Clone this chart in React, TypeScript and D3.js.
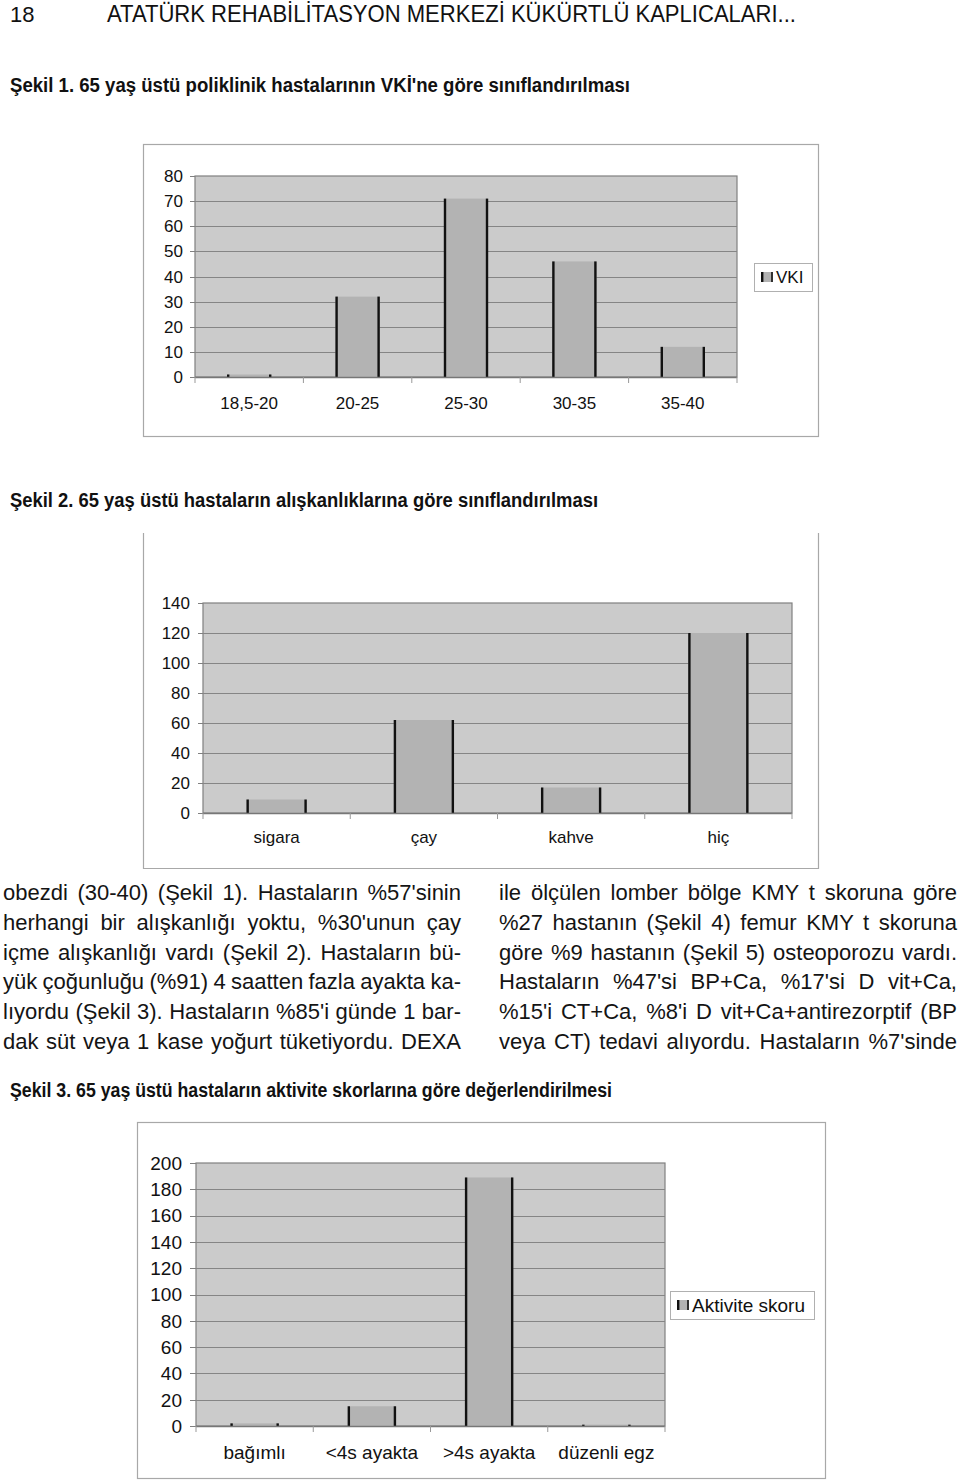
import React, { useEffect, useRef } from 'react';
import * as d3 from 'd3';

const W = 960;
const H = 1482;

const headerNumber = '18';
const headerTitle = 'ATATÜRK REHABİLİTASYON MERKEZİ KÜKÜRTLÜ KAPLICALARI...';

const figure1Title = 'Şekil 1. 65 yaş üstü poliklinik hastalarının VKİ\'ne göre sınıflandırılması';
const figure2Title = 'Şekil 2. 65 yaş üstü hastaların alışkanlıklarına göre  sınıflandırılması';
const figure3Title = 'Şekil 3. 65 yaş üstü hastaların aktivite skorlarına göre değerlendirilmesi';

const vkiCategories = ['18,5-20', '20-25', '25-30', '30-35', '35-40'];
const vkiValues = [1, 32, 71, 46, 12];
const vkiTicks = [0, 10, 20, 30, 40, 50, 60, 70, 80];
const vkiLegend = 'VKI';

const habitCategories = ['sigara', 'çay', 'kahve', 'hiç'];
const habitValues = [9, 62, 17, 120];
const habitTicks = [0, 20, 40, 60, 80, 100, 120, 140];

const activityCategories = ['bağımlı', '<4s ayakta', '>4s ayakta', 'düzenli egz'];
const activityValues = [2, 15, 189, 1];
const activityTicks = [0, 20, 40, 60, 80, 100, 120, 140, 160, 180, 200];
const activityLegend = 'Aktivite skoru';

const leftParagraph = [
  "obezdi (30-40) (Şekil 1). Hastaların %57'sinin",
  "herhangi bir alışkanlığı yoktu, %30'unun çay",
  "içme alışkanlığı vardı (Şekil 2). Hastaların bü-",
  "yük çoğunluğu (%91) 4 saatten fazla ayakta ka-",
  "lıyordu (Şekil 3). Hastaların %85'i günde 1 bar-",
  "dak süt veya 1 kase yoğurt tüketiyordu. DEXA",
];
const rightParagraph = [
  "ile ölçülen lomber bölge KMY t skoruna göre",
  "%27 hastanın (Şekil 4) femur KMY t skoruna",
  "göre %9 hastanın (Şekil 5) osteoporozu vardı.",
  "Hastaların %47'si BP+Ca, %17'si D vit+Ca,",
  "%15'i CT+Ca, %8'i D vit+Ca+antirezorptif (BP",
  "veya CT) tedavi alıyordu. Hastaların %7'sinde",
];

const FONT = "'Liberation Sans', Arial, Helvetica, sans-serif";
const NARROW = "'Liberation Sans Narrow', 'Arial Narrow', 'Liberation Sans', Arial, sans-serif";

type ChartOpts = {
  categories: string[];
  values: number[];
  ticks: number[];
  frame: [number, number, number, number];
  openTop?: boolean;
  plot: { left: number; right: number; top: number; bottom: number };
  pad: number;
  fontSize: number;
  xLabelY: number;
  tickLen: number;
  labelGap: number;
  legend?: { label: string; x: number; y: number; w: number; h: number };
};

function drawChart(svg: d3.Selection<SVGSVGElement, unknown, null, undefined>, o: ChartOpts) {
  const g = svg.append('g');
  const [fx0, fy0, fx1, fy1] = o.frame;
  if (o.openTop) {
    g.append('path')
      .attr('d', `M${fx0 + 0.5},${fy0}V${fy1 + 0.5}H${fx1 + 0.5}V${fy0}`)
      .attr('fill', 'none')
      .attr('stroke', '#a8a8a8')
      .attr('stroke-width', 1.2);
  } else {
    g.append('rect')
      .attr('x', fx0 + 0.5).attr('y', fy0 + 0.5)
      .attr('width', fx1 - fx0).attr('height', fy1 - fy0)
      .attr('fill', '#fff')
      .attr('stroke', '#a8a8a8')
      .attr('stroke-width', 1.2);
  }
  const { left, right, top, bottom } = o.plot;
  const x = d3.scaleBand<string>().domain(o.categories).range([left, right])
    .paddingInner(o.pad).paddingOuter(o.pad / 2);
  const maxT = o.ticks[o.ticks.length - 1];
  const y = d3.scaleLinear().domain([0, maxT]).range([bottom, top]);

  g.append('rect')
    .attr('x', left).attr('y', top)
    .attr('width', right - left).attr('height', bottom - top)
    .attr('fill', '#cbcbcb')
    .attr('stroke', '#808080')
    .attr('stroke-width', 1.2);

  g.selectAll('line.grid')
    .data(o.ticks.filter((t) => t > 0 && t < maxT))
    .join('line')
    .attr('x1', left).attr('x2', right)
    .attr('y1', (d) => Math.round(y(d)) + 0.5).attr('y2', (d) => Math.round(y(d)) + 0.5)
    .attr('stroke', '#858585')
    .attr('stroke-width', 1);

  // y ticks
  g.selectAll('line.ytick')
    .data(o.ticks)
    .join('line')
    .attr('x1', left - o.tickLen).attr('x2', left)
    .attr('y1', (d) => Math.round(y(d)) + 0.5).attr('y2', (d) => Math.round(y(d)) + 0.5)
    .attr('stroke', '#808080');
  g.selectAll('text.ylab')
    .data(o.ticks)
    .join('text')
    .attr('x', left - o.tickLen - o.labelGap)
    .attr('y', (d) => y(d))
    .attr('dy', '0.36em')
    .attr('text-anchor', 'end')
    .attr('font-family', FONT)
    .attr('font-size', o.fontSize)
    .attr('fill', '#111')
    .text((d) => String(d));

  // bars
  const data = o.categories.map((c, i) => ({ c, v: o.values[i] }));
  const bars = g.selectAll('g.bar').data(data).join('g');
  bars.append('rect')
    .attr('x', (d) => x(d.c)!)
    .attr('y', (d) => y(d.v))
    .attr('width', x.bandwidth())
    .attr('height', (d) => bottom - y(d.v))
    .attr('fill', '#b3b3b3');
  bars.append('line')
    .attr('x1', (d) => x(d.c)! + 1).attr('x2', (d) => x(d.c)! + 1)
    .attr('y1', (d) => y(d.v)).attr('y2', bottom)
    .attr('stroke', '#111').attr('stroke-width', 2.4);
  bars.append('line')
    .attr('x1', (d) => x(d.c)! + x.bandwidth() - 1).attr('x2', (d) => x(d.c)! + x.bandwidth() - 1)
    .attr('y1', (d) => y(d.v)).attr('y2', bottom)
    .attr('stroke', '#111').attr('stroke-width', 2.4);

  // x axis line
  g.append('line')
    .attr('x1', left).attr('x2', right)
    .attr('y1', bottom + 0.5).attr('y2', bottom + 0.5)
    .attr('stroke', '#777').attr('stroke-width', 1.4);
  // x ticks at band edges
  const edges = d3.range(o.categories.length + 1).map((i) => left + i * x.step() - (x.step() * o.pad) / 2 + (x.step() * o.pad) / 2);
  g.selectAll('line.xtick')
    .data(edges)
    .join('line')
    .attr('x1', (d) => d).attr('x2', (d) => d)
    .attr('y1', bottom).attr('y2', bottom + 6)
    .attr('stroke', '#999');
  g.selectAll('text.xlab')
    .data(o.categories)
    .join('text')
    .attr('x', (d) => x(d)! + x.bandwidth() / 2)
    .attr('y', o.xLabelY)
    .attr('text-anchor', 'middle')
    .attr('font-family', FONT)
    .attr('font-size', o.fontSize)
    .attr('fill', '#111')
    .text((d) => d);

  if (o.legend) {
    const L = o.legend;
    g.append('rect')
      .attr('x', L.x + 0.5).attr('y', L.y + 0.5)
      .attr('width', L.w).attr('height', L.h)
      .attr('fill', '#fff').attr('stroke', '#b0b0b0');
    const cy = L.y + L.h / 2;
    const ix = L.x + 7;
    g.append('rect').attr('x', ix).attr('y', cy - 5).attr('width', 12).attr('height', 10).attr('fill', '#b3b3b3');
    g.append('line').attr('x1', ix + 1.2).attr('x2', ix + 1.2).attr('y1', cy - 5).attr('y2', cy + 5).attr('stroke', '#111').attr('stroke-width', 2.4);
    g.append('line').attr('x1', ix + 11).attr('x2', ix + 11).attr('y1', cy - 5).attr('y2', cy + 5).attr('stroke', '#111').attr('stroke-width', 1.6);
    g.append('text')
      .attr('x', ix + 15)
      .attr('y', cy)
      .attr('dy', '0.36em')
      .attr('font-family', FONT)
      .attr('font-size', o.fontSize)
      .attr('fill', '#111')
      .text(L.label);
  }
}

function drawParagraph(svg: d3.Selection<SVGSVGElement, unknown, null, undefined>, lines: string[], x0: number, x1: number, y0: number, lh: number) {
  lines.forEach((line, i) => {
    const t = svg.append('text')
      .attr('x', x0)
      .attr('y', y0 + i * lh)
      .attr('font-family', FONT)
      .attr('font-size', 22)
      .attr('fill', '#141414')
      .text(line);
    const node = t.node() as SVGTextElement;
    const natural = node.getComputedTextLength();
    const spaces = (line.match(/ /g) || []).length;
    if (spaces > 0) {
      t.attr('word-spacing', ((x1 - x0) - natural) / spaces);
    }
  });
}

export default function App() {
  const ref = useRef<SVGSVGElement>(null);
  useEffect(() => {
    const svg = d3.select(ref.current!);
    svg.selectAll('*').remove();
    svg.append('rect').attr('width', W).attr('height', H).attr('fill', '#fff');

    svg.append('text').attr('x', 10).attr('y', 22)
      .attr('font-family', NARROW).attr('font-size', 22).attr('fill', '#111').text(headerNumber);
    svg.append('text').attr('x', 107).attr('y', 22)
      .attr('font-family', NARROW).attr('font-size', 24).attr('fill', '#111')
      .attr('textLength', 689).attr('lengthAdjust', 'spacingAndGlyphs')
      .text(headerTitle);

    const heading = (txt: string, yy: number, len: number) =>
      svg.append('text').attr('x', 10).attr('y', yy)
        .attr('font-family', NARROW).attr('font-weight', 'bold').attr('font-size', 20).attr('fill', '#111')
        .attr('textLength', len).attr('lengthAdjust', 'spacingAndGlyphs')
        .text(txt);
    heading(figure1Title, 92, 620);
    heading(figure2Title, 507, 588);
    heading(figure3Title, 1097, 602);

    drawChart(svg, {
      categories: vkiCategories,
      values: vkiValues,
      ticks: vkiTicks,
      frame: [143, 144, 818, 436],
      plot: { left: 195, right: 737, top: 176, bottom: 377 },
      pad: 0.594,
      fontSize: 17,
      xLabelY: 409,
      tickLen: 5,
      labelGap: 7,
      legend: { label: vkiLegend, x: 754, y: 263, w: 58, h: 28 },
    });

    drawChart(svg, {
      categories: habitCategories,
      values: habitValues,
      ticks: habitTicks,
      frame: [143, 533, 818, 868],
      openTop: true,
      plot: { left: 203, right: 792, top: 603, bottom: 813 },
      pad: 0.593,
      fontSize: 17,
      xLabelY: 843,
      tickLen: 5,
      labelGap: 8,
    });

    drawParagraph(svg, leftParagraph, 3, 461, 900, 29.8);
    drawParagraph(svg, rightParagraph, 499, 957, 900, 29.8);

    drawChart(svg, {
      categories: activityCategories,
      values: activityValues,
      ticks: activityTicks,
      frame: [137, 1122, 825, 1478],
      plot: { left: 196, right: 665, top: 1163, bottom: 1426 },
      pad: 0.59,
      fontSize: 19,
      xLabelY: 1459,
      tickLen: 6,
      labelGap: 8,
      legend: { label: activityLegend, x: 670, y: 1291, w: 144, h: 28 },
    });
  }, []);
  return (
    <svg ref={ref} width={W} height={H} style={{ position: 'absolute', left: 0, top: 0, display: 'block' }} />
  );
}
